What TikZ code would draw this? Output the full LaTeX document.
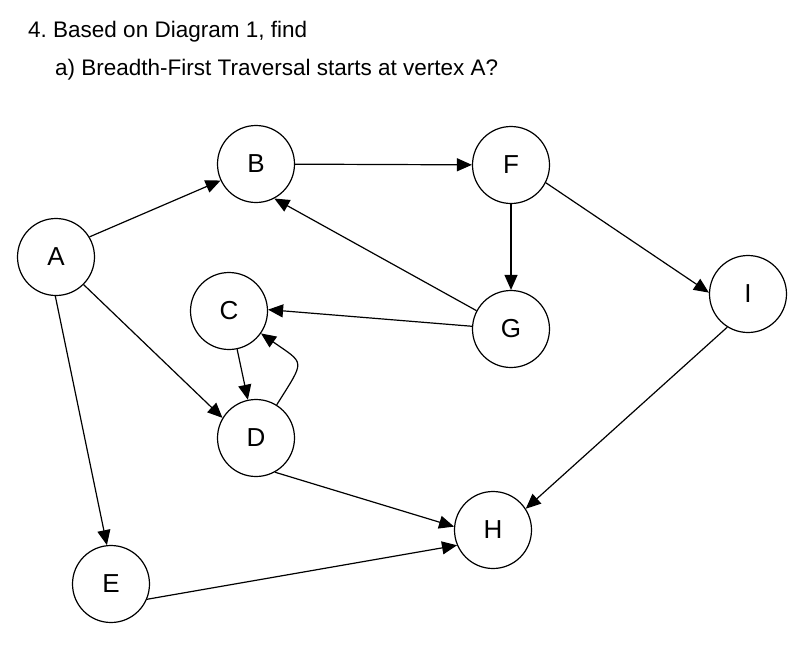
\documentclass[tikz,border=0pt]{standalone}
\usepackage{fontspec}
\setmainfont{Liberation Sans}
\usetikzlibrary{arrows.meta}
\begin{document}
\begin{tikzpicture}[x=1pt,y=1pt,
  vert/.style={circle,draw,line width=1.2pt,minimum size=77pt,inner sep=0pt,font=\fontsize{26}{30}\selectfont},
  edge/.style={line width=1.2pt,-{Triangle[length=15pt,width=13pt]}},
  title/.style={anchor=base west,inner sep=0pt,font=\fontsize{22.5}{27}\selectfont}]
\useasboundingbox[fill=white] (0,0) rectangle (800,-651);
\node[title] (t1) at (28,-37) {4.\ Based on Diagram 1, find};
\node[title] (t2) at (55,-75) {a) Breadth-First Traversal starts at vertex A?};
\node[vert] (A) at (56,-257) {A};
\node[vert] (B) at (256,-164) {B};
\node[vert] (F) at (511,-165) {F};
\node[vert] (I) at (748,-294) {I};
\node[vert] (C) at (229,-311) {C};
\node[vert] (G) at (511,-329) {G};
\node[vert] (D) at (256,-438) {D};
\node[vert] (H) at (493,-530) {H};
\node[vert] (E) at (111,-584) {E};
\draw[edge] (A.31) -- (B.205);
\draw[edge] (B) -- (F);
\draw[edge] (F) -- (G);
\draw[edge] (F.-27) -- (I.178);
\draw[edge] (G.152) -- (B.-62);
\draw[edge] (G.176) -- (C.2);
\draw[edge] (C) -- (D);
\draw[edge] (D) to[out=58,in=-35,looseness=1.9] (C);
\draw[edge] (A.-45) -- (D.149);
\draw[edge] (A.-91) -- (E.96);
\draw[edge] (D.-61) -- (H.175);
\draw[edge] (E.-23) -- (H.203);
\draw[edge] (I.-122) -- (H.33);
\end{tikzpicture}
\end{document}
